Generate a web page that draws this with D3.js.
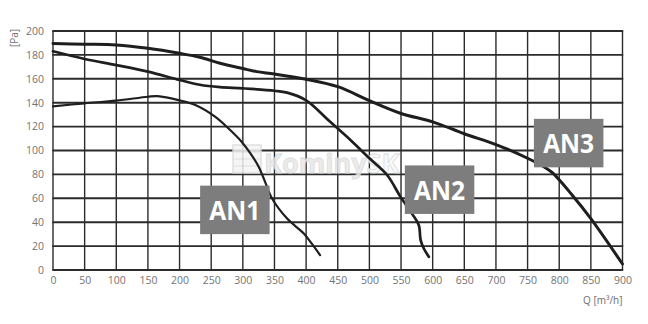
<!DOCTYPE html>
<html><head><meta charset="utf-8">
<script src="https://cdn.jsdelivr.net/npm/d3@7/dist/d3.min.js"></script>
<style>
html,body{margin:0;padding:0;background:#fff;}
svg{display:block;}
</style></head>
<body>
<svg id="c" width="648" height="324"></svg>
<script>
// ---- data ----
const xTicks = [0,50,100,150,200,250,300,350,400,450,500,550,600,650,700,750,800,850,900];
const yTicks = [0,20,40,60,80,100,120,140,160,180,200];
const xLabel = "Q [m³/h]";
const yLabel = "[Pa]";
const seriesNames = ["AN1","AN2","AN3"];

const an1Q = [0,50,100,150,165,200,225,256,277,298,312,325,335,346,370,396,409,422];
const an1P = [137,139.5,141.7,145,145.5,142,138,128.3,118.6,107.4,97.6,86.5,74,60,43,30.7,22,12.5];

const an2Q = [0,50,100,150,200,232,264,300,350,370,400,438,470,500,528,549,567,578,581,586,594];
const an2P = [183,176.6,171.5,166,159,155,153,152,150,148.4,142,124,108.8,93.5,79.5,61.4,47.4,37.7,25,18,11];

const an3Q = [0,50,100,150,200,232,264,300,322,350,400,450,500,550,600,650,700,750,780,790,820,850,900];
const an3P = [189.5,189,188.3,185.5,181.3,178,173,168.6,166,164,159.6,153.4,141.7,131,124,114,105,93.5,85,81,63,43,5];

// ---- drawing ----
const svg = d3.select("#c");
const x = d3.scaleLinear().domain([0,900]).range([53,622.5]);
const y = d3.scaleLinear().domain([0,200]).range([270,31]);
const tickFont = "'Liberation Sans Narrow','Open Sans',sans-serif";
const gridCol = "#2b2b2b";

// gridlines
svg.append("g").selectAll("line").data(xTicks).join("line")
  .attr("x1",d=>x(d)).attr("x2",d=>x(d)).attr("y1",y(0)).attr("y2",y(200))
  .attr("stroke",gridCol).attr("stroke-width",1.4);
svg.append("g").selectAll("line").data(yTicks).join("line")
  .attr("x1",x(0)-0.7).attr("x2",x(900)+0.7).attr("y1",d=>y(d)).attr("y2",d=>y(d))
  .attr("stroke",gridCol).attr("stroke-width",1.9);

// tick labels via axes
const xAxis = d3.axisBottom(x).tickValues(xTicks).tickSize(0).tickPadding(7);
const gx = svg.append("g").attr("transform",`translate(0,${y(0)})`).call(xAxis);
gx.select(".domain").remove();
gx.selectAll("text").attr("font-family",tickFont).attr("font-size",10.5).attr("fill","#747474");

const yAxis = d3.axisLeft(y).tickValues(yTicks).tickSize(0).tickPadding(9);
const gy = svg.append("g").attr("transform",`translate(${x(0)},0)`).call(yAxis);
gy.select(".domain").remove();
gy.selectAll("text").attr("font-family",tickFont).attr("font-size",10.5).attr("fill","#747474");

// axis titles
svg.append("text").attr("transform","translate(18,38) rotate(-90)")
  .attr("text-anchor","middle").attr("font-family",tickFont).attr("font-size",10)
  .attr("fill","#6e6e6e").text(yLabel);
svg.append("text").attr("x",x(900)).attr("y",304).attr("text-anchor","end")
  .attr("font-family",tickFont).attr("font-size",10).attr("fill","#6e6e6e").text(xLabel);

// watermark
const wm = svg.append("g").attr("opacity",0.85);
wm.append("rect").attr("x",233).attr("y",145).attr("width",28).attr("height",28)
  .attr("fill","#f4f4f4").attr("stroke","#dadada").attr("stroke-width",1.5);
[0,1,2].forEach(i=>{
  wm.append("line").attr("x1",233).attr("x2",261).attr("y1",152+i*7).attr("y2",152+i*7)
    .attr("stroke","#dadada").attr("stroke-width",1);
});
wm.append("text").attr("x",264).attr("y",173).attr("font-family","'Open Sans',sans-serif")
  .attr("font-weight","bold").attr("font-size",27)
  .attr("fill","#e8e8e8").attr("stroke","#d6d6d6").attr("stroke-width",0.8)
  .text("Kominy").append("tspan").attr("fill","#f8f8f8").text("SK");

// curves
const line = d3.line().x(d=>x(d[0])).y(d=>y(d[1])).curve(d3.curveCatmullRom.alpha(0.5));
const series = [
  {name:seriesNames[0], q:an1Q, p:an1P, w:2.2},
  {name:seriesNames[1], q:an2Q, p:an2P, w:2.7},
  {name:seriesNames[2], q:an3Q, p:an3P, w:3}
];
svg.append("g").selectAll("path").data(series).join("path")
  .attr("d",s=>line(s.q.map((q,i)=>[q,s.p[i]])))
  .attr("fill","none").attr("stroke","#1e1e1e").attr("stroke-width",s=>s.w)
  .attr("stroke-linejoin","round").attr("stroke-linecap","round");

// labels (anchored in data coordinates: left q, top p)
const labelAnchors = [[232.5,70.6],[556,87.5],[760,126.5]];
const lg = svg.append("g").selectAll("g").data(series).join("g")
  .attr("transform",(s,i)=>`translate(${x(labelAnchors[i][0])},${y(labelAnchors[i][1])})`);
lg.append("rect").attr("width",69.5).attr("height",48.5).attr("fill","#7d7d7d");
lg.append("text").attr("x",34.75).attr("y",34.5).attr("text-anchor","middle")
  .attr("font-family","'Open Sans',sans-serif").attr("font-weight","bold")
  .attr("font-size",27).attr("fill","#fff").attr("textLength",51).attr("lengthAdjust","spacingAndGlyphs")
  .text(s=>s.name);
</script>
</body></html>
